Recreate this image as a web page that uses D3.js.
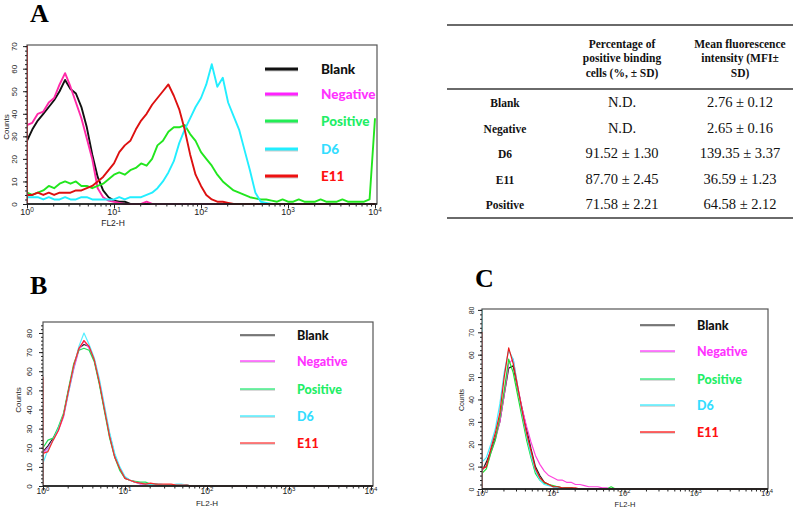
<!DOCTYPE html>
<html><head><meta charset="utf-8">
<script src="https://cdn.jsdelivr.net/npm/d3@7"></script>
<style>body{margin:0;background:#fff}svg{display:block}</style>
</head><body><svg id="c" width="800" height="515"></svg>
<script>
// ---------- DATA ----------
const seriesNames = ["Blank","Negative","Positive","D6","E11"];
// FL2-H channel values (1/16 decade grid)
const fl2 = [1.00,1.15,1.33,1.54,1.78,2.05,2.37,2.74,3.16,3.65,4.22,4.87,5.62,6.49,7.50,8.66,10.0,
 11.5,13.3,15.4,17.8,20.5,23.7,27.4,31.6,36.5,42.2,48.7,56.2,64.9,75.0,86.6,100,
 115,133,154,178,205,237,274,316,365,422,487,562,649,750,866,1000,
 1150,1330,1540,1780,2050,2370,2740,3160,3650,4220,4870,5620,6490,7500,8660,10000];
const xDecades = [1,10,100,1000,10000];
const decadeExp = ["0","1","2","3","4"];
const yTicksA = [0,10,20,30,40,50,60,70];
const yTicksBC = [0,10,20,30,40,50,60,70,80];

// Panel A counts
const aBlank = [28,33,37,40,43,46,50,55,51,49, 43,34,22,12,6,3,1.5,1,1,0,
 0,0,0,0,0,0,0,0,0,0, 0,0,0,0,0,0,0,0,0,0, 0,0,0,0,0,0,0,0,0,0, 0,0,0,0,0,0,0,0,0,0, 0,0,0,0,0];
const aNegative = [35,36,40,41,45,47,53,58,52,45, 38,29,20,7,3,1.5,1,0.5,0,0, 0,0,1,0,0,0,0,0,0,0,
 0,0,0,0,0,0,0,0,0,0, 0,0,0,0,0,0,0,0,0,0, 0,0,0,0,0,0,0,0,0,0, 0,0,0,0,0];
const aPositive = [5,4,5,6,8,7,9,10,9,10, 8,8,7,8,9,11,13,14,13,15, 16,18,17,20,26,28,32,34,34,35,
 31,28,23,20,17,13,10,8,6,5, 4,3,2.5,2,2,1.5,1,2,1,1, 2,1,1,1,2,1,1,1,2,1, 1,1,1,2,38];
const aD6 = [3,3,3,2,3,2,2,3,2,2, 3,3,2,2,2,2,2,3,2,3, 3,3,4,5,7,10,14,19,27,33,
 38,43,47,53,62,52,56,45,39,33, 24,15,5,1,0.5,0,0,0,0,0, 0,0,0,0,0,0,0,0,0,0, 0,0,0,0,0];
const aE11 = [4,4,5,4,5,4,5,5,5,6, 6,7,8,10,12,15,18,23,26,28, 33,37,40,44,47,50,53,48,42,33,
 22,13,8,4,2,1,1,0.5,0,0, 0,0,0,0,0,0,0,0,0,0, 0,0,0,0,0,0,0,0,0,0, 0,0,0,0,0];
const aEdge = [52,36,10,4,75];

// Panel B counts
const bBlank = [18,21,25,30,37,50,62,72,74,73, 66,54,40,27,16,9,4.5,3,2,1.5, 1,1,1,0.5,0.5,0.5,0.5,0.5,0.5,0,
 0,0,0,0,0,0,0,0,0,0, 0,0,0,0,0,0,0,0,0,0, 0,0,0,0,0,0,0,0,0,0, 0,0,0,0,0];
const bNegative = [17,20,24,29,36,49,61,71,76,72, 66,55,41,26,15,9,4,3,2,1, 1,1,0.5,0.5,0.5,0.5,0.5,0.5,0.5,0,
 0,0,0,0,0,0,0,0,0,0, 0,0,0,0,0,0,0,0,0,0, 0,0,0,0,0,0,0,0,0,0, 0,0,0,0,0];
const bPositive = [20,24,25,31,38,51,64,71,72,71, 65,53,39,25,15,8,4,3,2.5,2, 2,1,1,0.5,0.5,0.5,0.5,0.5,0.5,0,
 0,0,0,0,0,0,0,0,0,0, 0,0,0,0,0,0,0,0,0,0, 0,0,0,0,0,0,0,0,0,0, 0,0,0,0,0];
const bD6 = [12,19,24,30,37,49,62,73,80,74, 67,56,42,28,17,10,5,3,2,1.5, 1,1,1,1,0.5,0.5,1,1,0.5,0,
 0,0,0,0,0,0,0,0,0,0, 0,0,0,0,0,0,0,0,0,0, 0,0,0,0,0,0,0,0,0,0, 0,0,0,0,0];
const bE11 = [17,18,24,29,37,50,63,72,76,73, 66,54,40,26,15,9,4,3,2,1.5, 1,1.5,1,1,1,1,0.5,0.5,0.5,0,
 0,0,0,0,0,0,0,0,0,0, 0,0,0,0,0,0,0,0,0,0, 0,0,0,0,0,0,0,0,0,0, 0,0,0,0,0];
const bEdge = [20,18,24,12,57];

// Panel C counts
const cBlank = [8,12,17,23,30,42,54,55,45,36, 27,18,10,6,3,2,1,1,0.5,0.5, 0.5,0,0,0,0,0,0,0,0,0,
 0,0,0,0,0,0,0,0,0,0, 0,0,0,0,0,0,0,0,0,0, 0,0,0,0,0,0,0,0,0,0, 0,0,0,0,0];
const cNegative = [9,10,16,22,30,42,56,58,46,36, 28,21,15,11,8,6,5,4,4,3, 3,2,2,1.5,1,1,1,0.5,0.5,0,
 0,0,0,0,0,0,0,0,0,0, 0,0,0,0,0,0,0,0,0,0, 0,0,0,0,0,0,0,0,0,0, 0,0,0,0,0];
const cPositive = [7,9,16,22,32,44,58,52,42,32, 22,14,7,4,2.5,2,1.5,1,0.5,0.5, 0.5,0,0,0,0,0,0,0,0,1,
 0,0,0,0,0,0,0,0,0,0, 0,0,0,0,0,0,0,0,0,0, 0,0,0,0,0,0,0,0,0,0, 0,0,0,0,0];
const cD6 = [12,14,20,27,38,52,62,58,46,34, 24,15,8,4,2,1.5,1,0.5,0.5,0, 0,0,0,0,0,0,0,0,0,0,
 0,0,0,0,0,0,0,0,0,0, 0,0,0,0,0,0,0,0,0,0, 0,0,0,0,0,0,0,0,0,0, 0,0,0,0,0];
const cE11 = [9,10,18,25,34,50,63,56,46,35, 25,17,9,5,3,2,1,1,0.5,0.5, 0.5,0.5,0,0,0,0,0,0,0,0,
 0,0,0,0,0,0,0,0,0,0, 0,0,0,0,0,0,0,0,0,0, 0,0,0,0,0,0,0,0,0,0, 0,0,0,0,0];
const cEdge = [10,42,54,85,70];

// Table
const tableHeadPct = ["Percentage of","positive binding","cells (%, ± SD)"];
const tableHeadMfi = ["Mean fluorescence","intensity (MFI±","SD)"];
const tableRows = ["Blank","Negative","D6","E11","Positive"];
const tablePct = ["N.D.","N.D.","91.52 ± 1.30","87.70 ± 2.45","71.58 ± 2.21"];
const tableMfi = ["2.76 ± 0.12","2.65 ± 0.16","139.35 ± 3.37","36.59 ± 1.23","64.58 ± 2.12"];

// ---------- DRAW ----------
const svg = d3.select("#c");
svg.append("rect").attr("width",800).attr("height",515).attr("fill","#fff");

const panels = [
 {id:"A", series:[aBlank,aNegative,aPositive,aD6,aE11], edge:aEdge,
  left:27, right:377, x4:375, top:45, bottom:204, yMax:70.5, yTicks:yTicksA, lw:1.9,
  colors:["#111111","#ff2aa8","#22e61e","#22eeff","#dd1010"],
  ytOff:-10, yFont:8, countsX:9, countsY:127, xlabY:215, xFont:9, fl2x:113, fl2y:226,
  letter:{x:30,y:22},
  leg:{x1:265,x2:298,tx:321,ys:[69,94,121,149,176],lw:3,fs:13.5,
       colors:["#111","#ff22ff","#22ee55","#22eeff","#ee1111"]}},
 {id:"B", series:[bBlank,bNegative,bPositive,bD6,bE11], edge:bEdge,
  left:43, right:373, x4:371, top:322, bottom:486, yMax:85.75, yTicks:yTicksBC, lw:1.2,
  colors:["#222222","#ee55ee","#22dd55","#55eeff","#ff2a2a"],
  ytOff:-11, yFont:8, countsX:21, countsY:400, xlabY:494, xFont:8.5, fl2x:207, fl2y:506,
  letter:{x:30,y:294},
  leg:{x1:240,x2:275,tx:297,ys:[335,361,389,416,443],lw:1.5,fs:12.5,
       colors:["#555","#ff55ff","#44ee88","#55eeff","#ff5555"]}},
 {id:"C", series:[cBlank,cNegative,cPositive,cD6,cE11], edge:cEdge,
  left:482, right:768, x4:767, top:309, bottom:489, yMax:80.4, yTicks:yTicksBC, lw:1.2,
  colors:["#222222","#ff44dd","#22dd33","#44eeff","#ee1a1a"],
  ytOff:-8, yFont:7, countsX:464, countsY:400, xlabY:496, xFont:8, fl2x:625, fl2y:507,
  letter:{x:475,y:287},
  leg:{x1:640,x2:675,tx:697,ys:[325,351,379,405,432],lw:1.5,fs:12.5,
       colors:["#555","#ff55ff","#44ee88","#55eeff","#ff3333"]}}
];

const legColorsText = ["#111111","#ff33ff","#22ee66","#33ddff","#ff1111"];

panels.forEach(p => {
  p.series.forEach(s => { if (s.length !== fl2.length) throw new Error(p.id+" length "+s.length); });
  const g = svg.append("g");
  const x = d3.scaleLog().domain([1,10000]).range([p.left, p.x4]);
  const y = d3.scaleLinear().domain([0,p.yMax]).range([p.bottom, p.top]);

  // panel letter
  g.append("text").attr("x",p.letter.x).attr("y",p.letter.y)
    .attr("font-family","'Liberation Serif',serif").attr("font-weight","bold")
    .attr("font-size",26).attr("fill","#000").text(p.id);

  const clipId = "clip"+p.id;
  g.append("clipPath").attr("id",clipId).append("rect")
    .attr("x",p.left).attr("y",p.top).attr("width",p.right-p.left).attr("height",p.bottom-p.top+1);

  const line = d3.line().x(d=>x(d[0])).y(d=>y(d[1]));
  const cg = g.append("g").attr("clip-path",`url(#${clipId})`);
  p.series.forEach((s,i) => {
    const pts = [[1,0],[1,p.edge[i]]].concat(fl2.map((v,j)=>[v,s[j]]));
    cg.append("path").attr("d",line(pts)).attr("fill","none")
      .attr("stroke",p.colors[i]).attr("stroke-width",p.lw).attr("stroke-linejoin","round");
  });

  // frame
  g.append("rect").attr("x",p.left).attr("y",p.top).attr("width",p.right-p.left)
    .attr("height",p.bottom-p.top).attr("fill","none").attr("stroke","#555").attr("stroke-width",1.2);
  g.append("line").attr("x1",p.left).attr("x2",p.right).attr("y1",p.bottom).attr("y2",p.bottom)
    .attr("stroke","#111").attr("stroke-width",1.3);

  // x axis ticks
  const minor = [];
  [1,10,100,1000].forEach(d => { for (let m=2;m<=9;m++) minor.push(d*m); });
  const xa1 = g.append("g").attr("transform",`translate(0,${p.bottom})`)
    .call(d3.axisBottom(x).tickValues(minor).tickSize(2.5).tickFormat(""));
  const xa2 = g.append("g").attr("transform",`translate(0,${p.bottom})`)
    .call(d3.axisBottom(x).tickValues(xDecades).tickSize(4.5).tickFormat(""));
  [xa1,xa2].forEach(a => { a.select(".domain").remove(); a.selectAll("line").attr("stroke","#222"); });
  xDecades.forEach((v,i) => {
    const t = g.append("text").attr("x",x(v)).attr("y",p.xlabY).attr("text-anchor","middle")
      .attr("font-family","'Liberation Sans',Arial,sans-serif").attr("font-size",p.xFont).attr("fill","#222");
    t.append("tspan").text("10");
    t.append("tspan").attr("dy",-3.5).attr("font-size",p.xFont*0.72).text(decadeExp[i]);
  });
  g.append("text").attr("x",p.fl2x).attr("y",p.fl2y).attr("text-anchor","middle")
    .attr("font-family","'Liberation Sans',Arial,sans-serif").attr("font-size",p.xFont-0.5)
    .attr("fill","#222").text("FL2-H");

  // y axis
  const ymin = [];
  for (let v=0; v<=p.yMax; v+=2) ymin.push(v);
  const ya1 = g.append("g").attr("transform",`translate(${p.left},0)`)
    .call(d3.axisLeft(y).tickValues(ymin).tickSize(2).tickFormat(""));
  const ya2 = g.append("g").attr("transform",`translate(${p.left},0)`)
    .call(d3.axisLeft(y).tickValues(p.yTicks).tickSize(4));
  [ya1,ya2].forEach(a => { a.select(".domain").remove(); a.selectAll("line").attr("stroke","#222"); });
  ya2.selectAll("text").attr("transform","rotate(-90)").attr("x",0).attr("y",p.ytOff).attr("dy",0)
    .attr("text-anchor","middle").attr("font-family","'Liberation Sans',Arial,sans-serif")
    .attr("font-size",p.yFont).attr("fill","#222");
  g.append("text").attr("transform",`translate(${p.countsX},${p.countsY}) rotate(-90)`)
    .attr("text-anchor","middle").attr("font-family","'Liberation Sans',Arial,sans-serif")
    .attr("font-size",p.yFont).attr("fill","#222").text("Counts");

  // legend
  const L = p.leg;
  seriesNames.forEach((n,i) => {
    g.append("line").attr("x1",L.x1).attr("x2",L.x2).attr("y1",L.ys[i]+1).attr("y2",L.ys[i]+1)
      .attr("stroke","#ccc").attr("stroke-width",L.lw);
    g.append("line").attr("x1",L.x1).attr("x2",L.x2).attr("y1",L.ys[i]).attr("y2",L.ys[i])
      .attr("stroke",L.colors[i]).attr("stroke-width",L.lw);
    g.append("text").attr("x",L.tx).attr("y",L.ys[i]+4.5)
      .attr("font-family","Lato,'Open Sans',sans-serif").attr("font-weight","900")
      .attr("font-size",L.fs).attr("fill",legColorsText[i]).text(n);
  });
});

// table
const tg = svg.append("g");
[25,89,218].forEach(yy => tg.append("line").attr("x1",447).attr("x2",793).attr("y1",yy).attr("y2",yy)
  .attr("stroke","#6a6a6a").attr("stroke-width",2));
const serif = "'Liberation Serif','Times New Roman',serif";
[48,62,77].forEach((yy,i) => {
  tg.append("text").attr("x",622).attr("y",yy).attr("text-anchor","middle").attr("font-family",serif)
    .attr("font-weight","bold").attr("font-size",11.5).attr("fill","#111").text(tableHeadPct[i]);
  tg.append("text").attr("x",740).attr("y",yy).attr("text-anchor","middle").attr("font-family",serif)
    .attr("font-weight","bold").attr("font-size",11.5).attr("fill","#111").text(tableHeadMfi[i]);
});
const rowY = d3.scalePoint().domain(tableRows).range([107,209]);
tableRows.forEach((r,i) => {
  const yy = rowY(r);
  tg.append("text").attr("x",505).attr("y",yy).attr("text-anchor","middle").attr("font-family",serif)
    .attr("font-weight","bold").attr("font-size",11.5).attr("fill","#111").text(r);
  tg.append("text").attr("x",622).attr("y",yy).attr("text-anchor","middle").attr("font-family",serif)
    .attr("font-size",14.5).attr("fill","#111").text(tablePct[i]);
  tg.append("text").attr("x",740).attr("y",yy).attr("text-anchor","middle").attr("font-family",serif)
    .attr("font-size",14.5).attr("fill","#111").text(tableMfi[i]);
});
</script></body></html>
